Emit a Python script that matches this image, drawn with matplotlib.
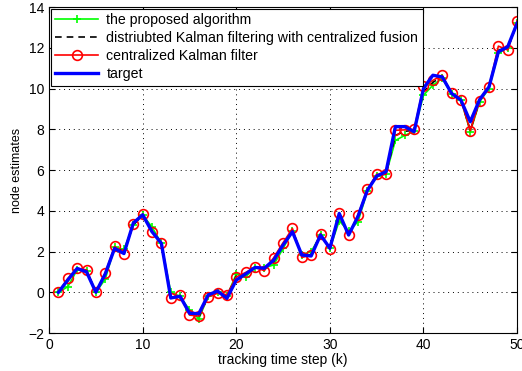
import numpy as np
import matplotlib
matplotlib.use('Agg')
import matplotlib.pyplot as plt

# tracking time steps
k = np.arange(1, 51)

# centralized Kalman filter estimates
ckf = [0.0, 0.68, 1.17, 1.1, 0.0, 0.95, 2.25, 1.9, 3.35, 3.85,
       2.97, 2.4, -0.3, -0.15, -1.12, -1.17, -0.22, -0.05, -0.12, 0.75,
       0.97, 1.22, 1.06, 1.7, 2.43, 3.13, 1.71, 1.82, 2.88, 2.12,
       3.87, 2.81, 3.8, 5.05, 5.79, 5.79, 7.95, 7.97, 8.0, 10.1,
       10.4, 10.65, 9.76, 9.43, 7.93, 9.4, 10.08, 12.08, 11.89, 13.32]

# distributed Kalman filtering with centralized fusion
dkf = [0.0, 0.55, 1.15, 1.08, 0.0, 0.85, 2.2, 2.0, 3.3, 3.8,
       3.05, 2.4, -0.2, -0.2, -1.0, -1.22, -0.2, 0.0, -0.2, 0.8,
       0.88, 1.2, 1.15, 1.5, 2.3, 3.05, 1.8, 1.85, 2.85, 2.15,
       3.7, 2.9, 3.65, 5.0, 5.75, 5.8, 7.7, 7.9, 7.95, 9.85,
       10.3, 10.6, 9.75, 9.45, 7.95, 9.4, 10.05, 11.9, 11.95, 13.2]

# proposed algorithm
prop = [0.0, 0.27, 1.1, 1.05, 0.0, 0.64, 2.2, 2.1, 3.3, 3.8,
        3.2, 2.4, 0.0, -0.2, -0.87, -1.3, -0.2, 0.0, -0.2, 0.9,
        0.76, 1.2, 1.2, 1.34, 2.15, 3.0, 1.85, 1.99, 2.8, 2.15,
        3.5, 3.0, 3.46, 4.95, 5.7, 5.8, 7.45, 7.7, 7.9, 9.67,
        10.16, 10.5, 9.75, 9.45, 7.88, 9.35, 10.0, 11.73, 12.0, 13.2]

# true target position
target = [0.0, 0.6, 1.17, 1.0, 0.0, 0.9, 2.15, 1.9, 3.4, 3.8,
          2.97, 2.4, -0.28, -0.2, -1.03, -1.05, -0.13, 0.06, -0.3, 0.6,
          0.9, 1.22, 1.18, 1.58, 2.32, 2.97, 1.83, 1.78, 2.81, 2.16,
          3.87, 2.81, 3.72, 5.0, 5.7, 5.92, 8.13, 8.13, 7.88, 10.0,
          10.65, 10.57, 9.76, 9.43, 8.37, 9.46, 10.08, 11.8, 12.05, 13.2]

plt.rcParams['font.family'] = ['Liberation Sans', 'DejaVu Sans']

fig = plt.figure(figsize=(5.22, 3.71), dpi=100)
ax = fig.add_axes([0.094, 0.1024, 0.8966, 0.8787])

ax.plot(k, prop, '-', color='#00ff00', lw=1.2, marker='+', ms=6, mew=1.2,
        label='the proposed algorithm')
ax.plot(k, dkf, color='black', lw=1.2, dashes=(4, 3),
        label='distriubted Kalman filtering with centralized fusion')
ax.plot(k, ckf, '-', color='red', lw=1.2, marker='o', ms=7, mfc='none', mew=1.2,
        label='centralized Kalman filter')
ax.plot(k, target, '-', color='blue', lw=2.4, label='target')

ax.set_xlim(0, 50)
ax.set_ylim(-2, 14)
ax.set_xticks(np.arange(0, 51, 10))
ax.set_yticks(np.arange(-2, 15, 2))
ax.grid(True, linestyle=(0, (1, 4)), color='black', lw=0.7)
ax.tick_params(direction='in', top=True, right=True, labelsize=10, length=4)
for s in ax.spines.values():
    s.set_linewidth(0.8)

ax.set_xlabel('tracking time step (k)', fontsize=10, labelpad=1)
ax.set_ylabel('node estimates', fontsize=9, labelpad=4)

leg = ax.legend(loc='upper left', fontsize=10.2, handlelength=3.0,
                borderaxespad=0.15, labelspacing=0.28, borderpad=0.3,
                handletextpad=0.6, fancybox=False, framealpha=1)
leg.get_frame().set_edgecolor('black')
leg.get_frame().set_linewidth(0.8)

fig.savefig('out.png', dpi=100)
